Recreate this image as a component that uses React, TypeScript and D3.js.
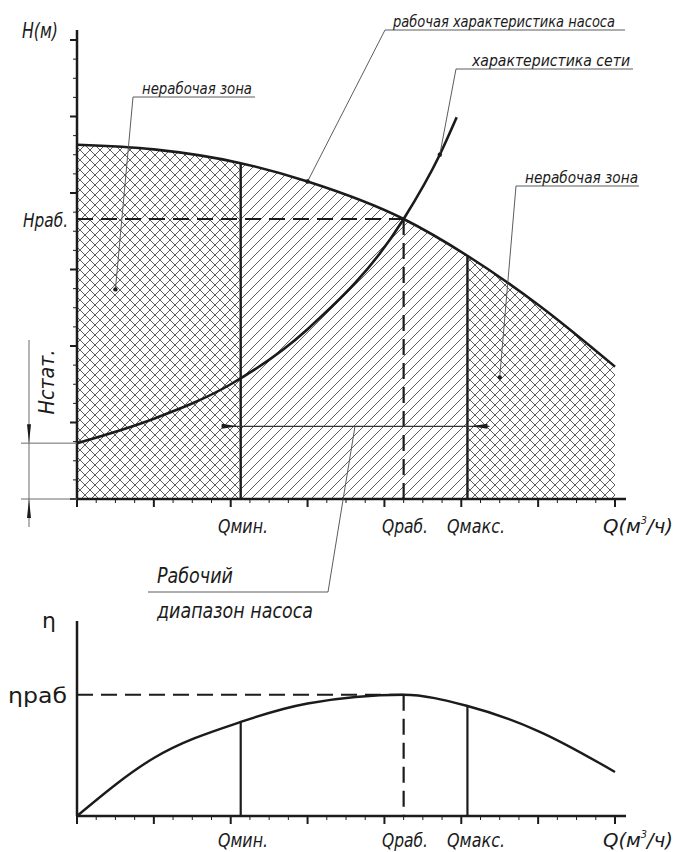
import * as d3 from 'd3';
import React from 'react';

// flow axis (major ticks) and head axis
const qMajor = [0, 1, 2, 3, 4, 5, 6, 7];
const hMajor = [0, 1, 2, 3, 4, 5, 6];

// pump curve H(Q)
const pumpQ = [0, 1, 2.13, 3, 4.25, 5.08, 6, 7];
const pumpH = [4.63, 4.57, 4.39, 4.15, 3.66, 3.18, 2.54, 1.73];

// system (network) curve
const netQ = [0, 1, 2, 3, 4.25, 4.72, 4.94];
const netH = [0.73, 1.05, 1.5, 2.22, 3.66, 4.5, 4.99];

// efficiency curve, % of axis height
const etaQ = [0, 1, 2.13, 3, 4.25, 5.08, 6, 7];
const etaV = [0, 29.9, 48.5, 58, 62.5, 56.7, 43.8, 22.7];

// key flows
const Q_MIN = 2.13;
const Q_WORK = 4.25;
const Q_MAX = 5.08;
const H_STAT = netH[0];

const W = 678;
const H = 852;

const x = d3.scaleLinear().domain([0, 7]).range([77, 615]);
const yH = d3.scaleLinear().domain([0, 6]).range([499, 40]);
const yE = d3.scaleLinear().domain([0, 100]).range([816, 622]);

const pump = pumpQ.map((q, i) => ({ q, v: pumpH[i] }));
const net = netQ.map((q, i) => ({ q, v: netH[i] }));
const eta = etaQ.map((q, i) => ({ q, v: etaV[i] }));

const at = (arr, q) => arr.find((d) => d.q === q).v;

const FONT = "'DejaVu Sans Condensed', 'Liberation Sans Narrow', 'DejaVu Sans', sans-serif";
const INK = '#1b1b1b';

const Label = ({ x: lx, y: ly, w, size = 20, children, ...rest }) => (
  <text
    x={lx}
    y={ly}
    fontFamily={FONT}
    fontStyle="italic"
    fontSize={size}
    fill={INK}
    textLength={w}
    lengthAdjust="spacingAndGlyphs"
    {...rest}
  >
    {children}
  </text>
);

// ticks pointing down under a horizontal axis
const QTicks = ({ y0 }) => {
  const minor = d3.range(0, 7.001, 0.25).filter((q) => !qMajor.includes(q));
  return (
    <g stroke={INK}>
      {minor.map((q) => (
        <line key={'m' + q} x1={x(q)} x2={x(q)} y1={y0} y2={y0 + 4} strokeWidth={1} />
      ))}
      {qMajor.map((q) => (
        <line key={'M' + q} x1={x(q)} x2={x(q)} y1={y0} y2={y0 + 8} strokeWidth={2} />
      ))}
    </g>
  );
};

const Dot = ({ cx, cy }) => <circle cx={cx} cy={cy} r={2.2} fill={INK} />;

const App = () => {
  const line = d3
    .line()
    .x((d) => x(d.q))
    .curve(d3.curveMonotoneX);
  const pumpPath = line.y((d) => yH(d.v))(pump);
  const netPath = line.y((d) => yH(d.v))(net);
  const etaPath = line.y((d) => yE(d.v))(eta);
  const pumpArea = d3
    .area()
    .x((d) => x(d.q))
    .y0(yH(0))
    .y1((d) => yH(d.v))
    .curve(d3.curveMonotoneX)(pump);

  const hWork = at(pump, Q_WORK);
  const eWork = at(eta, Q_WORK);
  const hMinor = d3.range(0, 6.001, 0.25).filter((h) => !hMajor.includes(h));

  const base = yH(0);
  const baseE = yE(0);
  const rangeY = yH(0.95);

  return (
    <svg
      width={W}
      height={H}
      style={{ position: 'absolute', left: 0, top: 0, background: '#fff' }}
    >
      <defs>
        <pattern id="hatch" patternUnits="userSpaceOnUse" width={10} height={10}>
          <path d="M0,10 L10,0 M-2.5,2.5 L2.5,-2.5 M7.5,12.5 L12.5,7.5" stroke="#5e5e5e" strokeWidth={1} />
        </pattern>
        <pattern id="cross" patternUnits="userSpaceOnUse" width={10} height={10}>
          <path
            d="M0,10 L10,0 M-2.5,2.5 L2.5,-2.5 M7.5,12.5 L12.5,7.5 M0,0 L10,10 M-2.5,7.5 L2.5,12.5 M7.5,-2.5 L12.5,2.5"
            stroke="#5e5e5e"
            strokeWidth={1}
          />
        </pattern>
        <clipPath id="zLeft">
          <rect x={x(0)} y={0} width={x(Q_MIN) - x(0)} height={H} />
        </clipPath>
        <clipPath id="zMid">
          <rect x={x(Q_MIN)} y={0} width={x(Q_MAX) - x(Q_MIN)} height={H} />
        </clipPath>
        <clipPath id="zRight">
          <rect x={x(Q_MAX)} y={0} width={x(7) - x(Q_MAX)} height={H} />
        </clipPath>
      </defs>

      {/* zones under the pump curve */}
      <path d={pumpArea} fill="url(#cross)" clipPath="url(#zLeft)" />
      <path d={pumpArea} fill="url(#hatch)" clipPath="url(#zMid)" />
      <path d={pumpArea} fill="url(#cross)" clipPath="url(#zRight)" />

      {/* head axis */}
      <g stroke={INK}>
        {hMinor.map((h) => (
          <line key={'hm' + h} x1={x(0) - 4} x2={x(0)} y1={yH(h)} y2={yH(h)} strokeWidth={1} />
        ))}
        {hMajor.map((h) => (
          <line key={'hM' + h} x1={x(0) - 7} x2={x(0)} y1={yH(h)} y2={yH(h)} strokeWidth={2} />
        ))}
        <line x1={x(0)} x2={x(0)} y1={30} y2={base} strokeWidth={2.5} />
        <line x1={x(0)} x2={626} y1={base} y2={base} strokeWidth={2.5} />
      </g>
      <QTicks y0={base} />

      {/* Hstat dimension */}
      <g stroke="#6a6a6a" strokeWidth={1}>
        <line x1={21} x2={x(0)} y1={yH(H_STAT)} y2={yH(H_STAT)} />
        <line x1={21} x2={x(0)} y1={base} y2={base} />
        <line x1={29} x2={29} y1={340} y2={527} />
      </g>
      <path
        d={`M29,${yH(H_STAT)} L27,${yH(H_STAT) - 19} L31,${yH(H_STAT) - 19} Z M29,${base} L27,${base + 19} L31,${base + 19} Z`}
        fill={INK}
      />
      <Label x={0} y={0} w={65} size={22} textAnchor="middle" transform="translate(54,382) rotate(-90)">
        Нстат.
      </Label>

      {/* operating point guides */}
      <g stroke={INK} strokeWidth={2.2} strokeDasharray="16 8" fill="none">
        <line x1={x(0)} x2={x(Q_WORK)} y1={yH(hWork)} y2={yH(hWork)} />
        <line x1={x(Q_WORK)} x2={x(Q_WORK)} y1={yH(hWork)} y2={base} />
      </g>

      {/* zone borders */}
      <g stroke={INK} strokeWidth={2.4}>
        <line x1={x(Q_MIN)} x2={x(Q_MIN)} y1={yH(at(pump, Q_MIN))} y2={base} />
        <line x1={x(Q_MAX)} x2={x(Q_MAX)} y1={yH(at(pump, Q_MAX))} y2={base} />
      </g>

      {/* curves */}
      <path d={pumpPath} fill="none" stroke={INK} strokeWidth={2.6} />
      <path d={netPath} fill="none" stroke={INK} strokeWidth={2.6} />

      {/* working range arrow */}
      <g>
        <line x1={x(Q_MIN) - 19} x2={x(Q_MAX) + 22} y1={rangeY} y2={rangeY} stroke="#333" strokeWidth={1.2} />
        <path
          d={`M${x(Q_MIN) - 3},${rangeY} L${x(Q_MIN) - 19},${rangeY - 2.5} L${x(Q_MIN) - 19},${rangeY + 2.5} Z`}
          fill={INK}
        />
        <path
          d={`M${x(Q_MAX) + 3},${rangeY} L${x(Q_MAX) + 20},${rangeY - 2.5} L${x(Q_MAX) + 20},${rangeY + 2.5} Z`}
          fill={INK}
        />
      </g>

      {/* leaders */}
      <g stroke="#4a4a4a" strokeWidth={0.9} fill="none">
        <polyline points={`255,97 133,97 ${x(0.5)},${yH(2.74)}`} />
        <polyline points={`625,30 385,30 ${x(pump[3].q)},${yH(pump[3].v)}`} />
        <polyline points={`633,69 456,69 ${x(net[5].q)},${yH(net[5].v)}`} />
        <polyline points={`639,186 516,186 ${x(5.5)},${yH(1.59)}`} />
        <polyline points={`355,${rangeY} 328,592 148,592`} />
      </g>
      <Dot cx={x(0.5)} cy={yH(2.74)} />
      <Dot cx={x(pump[3].q)} cy={yH(pump[3].v)} />
      <Dot cx={x(net[5].q)} cy={yH(net[5].v)} />
      <Dot cx={x(5.5)} cy={yH(1.59)} />

      <Label x={142} y={94} w={110} size={16}>нерабочая зона</Label>
      <Label x={393} y={27} w={222} size={16}>рабочая характеристика насоса</Label>
      <Label x={472} y={66} w={158} size={16}>характеристика сети</Label>
      <Label x={525} y={183} w={113} size={16}>нерабочая зона</Label>

      <Label x={22} y={38} w={36} size={22}>H(м)</Label>
      <Label x={23} y={yH(hWork) + 8} w={45} size={20}>Нраб.</Label>

      {/* Q labels, top */}
      <Label x={218} y={533} w={50}>Qмин.</Label>
      <Label x={382} y={533} w={46}>Qраб.</Label>
      <Label x={447} y={533} w={58}>Qмакс.</Label>
      <Label x={603} y={533} w={70}>
        Q(м<tspan dy={-9} fontSize={10}>3</tspan>
        <tspan dy={9}>/ч)</tspan>
      </Label>

      <Label x={157} y={583} w={76} size={22}>Рабочий</Label>
      <Label x={157} y={618} w={156} size={22}>диапазон насоса</Label>

      {/* efficiency chart */}
      <g stroke={INK}>
        <line x1={x(0)} x2={x(0)} y1={621} y2={baseE} strokeWidth={2.5} />
        <line x1={x(0)} x2={626} y1={baseE} y2={baseE} strokeWidth={2.5} />
      </g>
      <QTicks y0={baseE} />
      <g stroke={INK} strokeWidth={2.2} strokeDasharray="16 8" fill="none">
        <line x1={x(0)} x2={x(Q_WORK)} y1={yE(eWork)} y2={yE(eWork)} />
        <line x1={x(Q_WORK)} x2={x(Q_WORK)} y1={yE(eWork)} y2={baseE} />
      </g>
      <g stroke={INK} strokeWidth={2.2}>
        <line x1={x(Q_MIN)} x2={x(Q_MIN)} y1={yE(at(eta, Q_MIN))} y2={baseE} />
        <line x1={x(Q_MAX)} x2={x(Q_MAX)} y1={yE(at(eta, Q_MAX))} y2={baseE} />
      </g>
      <path d={etaPath} fill="none" stroke={INK} strokeWidth={2.4} />

      <text x={42} y={628} fontFamily="'DejaVu Sans', sans-serif" fontSize={22} fill={INK}>
        η
      </text>
      <text
        x={8}
        y={yE(eWork) + 8}
        fontFamily="'DejaVu Sans', sans-serif"
        fontSize={22}
        fill={INK}
        textLength={59}
        lengthAdjust="spacingAndGlyphs"
      >
        ηраб
      </text>

      <Label x={218} y={847} w={50}>Qмин.</Label>
      <Label x={382} y={847} w={46}>Qраб.</Label>
      <Label x={447} y={847} w={58}>Qмакс.</Label>
      <Label x={603} y={847} w={70}>
        Q(м<tspan dy={-9} fontSize={10}>3</tspan>
        <tspan dy={9}>/ч)</tspan>
      </Label>
    </svg>
  );
};

export default App;
